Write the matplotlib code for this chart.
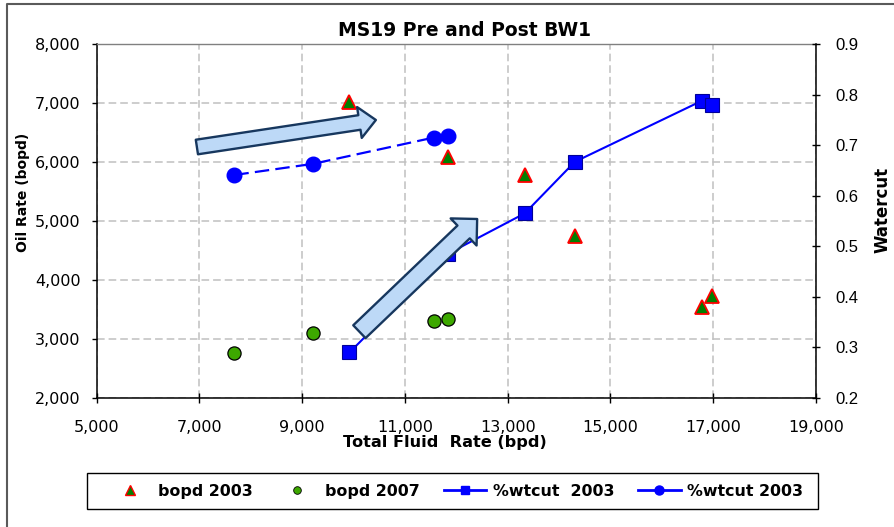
import matplotlib
matplotlib.use("Agg")
import matplotlib.pyplot as plt
from matplotlib.patches import FancyArrowPatch, Rectangle
from matplotlib.lines import Line2D

# ---------------- data ----------------
x_2003 = [9920, 11830, 13330, 14305, 16785, 16975]
bopd_2003 = [7020, 6090, 5780, 4750, 3550, 3730]
wtcut_2003 = [0.290, 0.485, 0.565, 0.667, 0.788, 0.779]

x_2007 = [7680, 9210, 11560, 11830]
bopd_2007 = [2760, 3110, 3300, 3340]
wtcut_2007 = [0.641, 0.663, 0.715, 0.718]

x_ticks = [5000, 7000, 9000, 11000, 13000, 15000, 17000, 19000]
y_ticks = [2000, 3000, 4000, 5000, 6000, 7000, 8000]
y2_ticks = [0.2, 0.3, 0.4, 0.5, 0.6, 0.7, 0.8, 0.9]

labels = ["bopd 2003", "bopd 2007", "%wtcut  2003", "%wtcut 2003"]
title = "MS19 Pre and Post BW1"
xlabel = "Total Fluid  Rate (bpd)"
ylabel = "Oil Rate (bopd)"
y2label = "Watercut"

# annotation arrows (tail, tip) in data coords of the left axis
arrow_pre = ((6950, 6254), (10434, 6712))
arrow_post = ((10113, 3124), (12405, 5034))

# ---------------- layout helpers ----------------
W, H = 895, 527
def fx(px):
    return px / W
def fy(py):
    return 1 - py / H

plt.rcParams["font.family"] = ["DejaVu Sans"]

fig = plt.figure(figsize=(W / 100, H / 100), dpi=100)
fig.patch.set_facecolor("white")

ax = fig.add_axes([fx(96.7), fy(398), (816 - 96.7) / W, 354 / H])
ax2 = ax.twinx()

ax.set_xlim(x_ticks[0], x_ticks[-1])
ax.set_ylim(y_ticks[0], y_ticks[-1])
ax2.set_ylim(y2_ticks[0], y2_ticks[-1])

# grid
ax.set_axisbelow(True)
ax.grid(True, color="#C0C0C0", lw=1.1, linestyle=(0, (5, 2.6)))

# series
ax.plot(x_2003, bopd_2003, ls="none", marker="^", ms=9.5, mfc="#008000",
        mec="#FF0000", mew=1.3, zorder=3)
ax.plot(x_2007, bopd_2007, ls="none", marker="o", ms=9.5, mfc="#3DA800",
        mec="#000000", mew=0.9, zorder=3)
ax2.plot(x_2003, wtcut_2003, color="#0000FF", lw=1.5, marker="s", ms=9.5,
         mfc="#0000FF", mec="#000099", mew=0.8, zorder=3)
ax2.plot(x_2007, wtcut_2007, color="#0000FF", lw=1.6, ls=(0, (6.5, 2.8)),
         marker="o", ms=10.5, mfc="#0000FF", mec="#0000FF", zorder=3)

# block arrows
for (tail, tip), tw, hw, hl in [(arrow_pre, 10.6, 22.5, 12.0),
                                (arrow_post, 12.8, 27.0, 13.5)]:
    arr = FancyArrowPatch(tail, tip,
                          arrowstyle=f"simple,head_length={hl},head_width={hw},tail_width={tw}",
                          mutation_scale=1, transform=ax.transData,
                          fc="#BDD9F7", ec="#17375E", lw=1.7,
                          shrinkA=0, shrinkB=0, zorder=10)
    ax2.add_artist(arr)

# ticks and labels
ax.set_xticks(x_ticks)
ax.set_xticklabels([f"{v:,}" for v in x_ticks])
ax.set_yticks(y_ticks)
ax.set_yticklabels([f"{v:,}" for v in y_ticks])
ax2.set_yticks(y2_ticks)
ax2.set_yticklabels([f"{v:.1f}" for v in y2_ticks])

ax.tick_params(axis="y", direction="out", length=3.6, width=1, pad=8.0,
               labelsize=11.5, colors="black")
ax.tick_params(axis="x", direction="inout", length=7, width=1, pad=12.5,
               labelsize=11.5, colors="black")
ax2.tick_params(axis="y", direction="inout", length=6.2, width=1, pad=11,
                labelsize=12, colors="black")
for lab in ax2.get_yticklabels():
    lab.set_family("Liberation Sans")

# spines
for s in ["left", "bottom"]:
    ax.spines[s].set_color("black")
    ax.spines[s].set_linewidth(1.1)
ax.spines["top"].set_color("#808080")
ax.spines["top"].set_linewidth(1.0)
ax.spines["right"].set_visible(False)
for s in ["left", "bottom", "top"]:
    ax2.spines[s].set_visible(False)
ax2.spines["right"].set_color("black")
ax2.spines["right"].set_linewidth(1.1)

# texts
fig.text(fx(464.7), fy(36), title, ha="center", va="baseline",
         fontsize=13.5, weight="bold")
fig.text(fx(445), fy(447), xlabel, ha="center", va="baseline",
         fontsize=11.6, weight="bold")
fig.text(fx(22.8), fy(192.5), ylabel, rotation=90, ha="center", va="center",
         fontsize=10, weight="bold")
fig.text(fx(883), fy(210), y2label, rotation=90, ha="center", va="center",
         fontsize=12, weight="bold")

# legend
h1 = Line2D([], [], ls="none", marker="^", ms=6.5, mfc="#008000", mec="#FF0000", mew=1)
h2 = Line2D([], [], ls="none", marker="o", ms=5.5, mfc="#3DA800", mec="#000000", mew=0.6)
h3 = Line2D([], [], color="#0000FF", lw=2, marker="s", ms=6, mfc="#0000FF", mec="#0000FF")
h4 = Line2D([], [], color="#0000FF", lw=2, marker="o", ms=6.5, mfc="#0000FF", mec="#0000FF")

fig.add_artist(Rectangle((fx(86.7), fy(509.3)), (817.7 - 86.7) / W, 36 / H,
                         transform=fig.transFigure, facecolor="white",
                         edgecolor="black", lw=1.0, zorder=1))
leg = fig.legend([h1, h2, h3, h4], labels, loc="center left",
                 bbox_to_anchor=(fx(108.5), fy(491.3)), ncol=4,
                 prop=dict(family="DejaVu Sans", weight="bold", size=11.4),
                 numpoints=1, handlelength=2.7, handletextpad=0.4,
                 columnspacing=1.5, borderpad=0, borderaxespad=0,
                 frameon=False)
leg.set_zorder(2)

# outer chart border (left and top edges visible)
fig.add_artist(Line2D([fx(7), fx(7), 1.01], [-0.01, fy(3.5), fy(3.5)],
                      transform=fig.transFigure, color="#5A5A5A", lw=1.5))

fig.savefig("out.png", dpi=100, facecolor="white")
